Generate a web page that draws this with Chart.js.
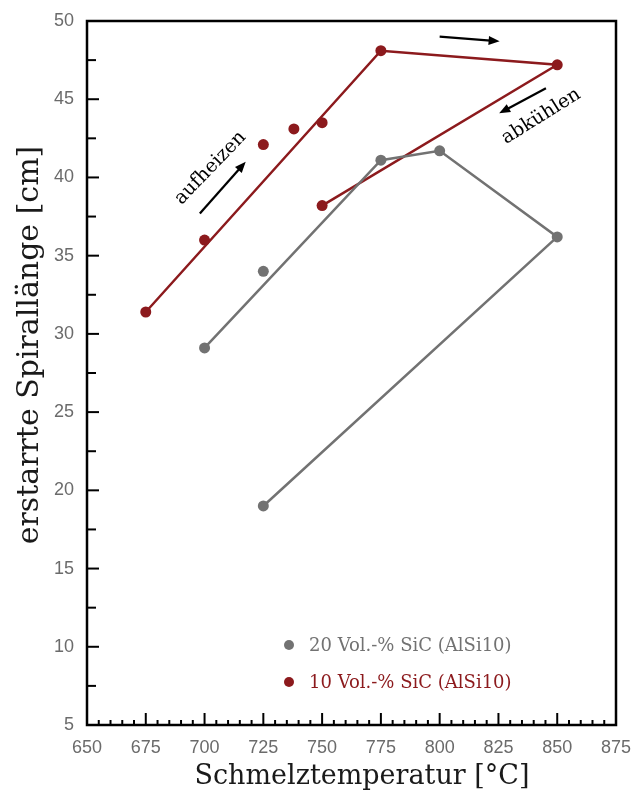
<!DOCTYPE html>
<html>
<head>
<meta charset="utf-8">
<script src="https://cdn.jsdelivr.net/npm/chart.js@4"></script>
<style>
  html, body { margin: 0; padding: 0; background: #fff; overflow: hidden; }
  #wrap { width: 635px; height: 791px; }
</style>
</head>
<body>
<div id="wrap"><canvas id="chart"></canvas></div>
<script>
// 10 Vol.-% SiC: Linienzug (aufheizen -> abkühlen) und Einzelpunkte
const red_line_x = [675, 775, 850, 750];
const red_line_y = [31.4, 48.1, 47.2, 38.2];
const red_pts_x = [700, 725, 738, 750];
const red_pts_y = [36.0, 42.1, 43.1, 43.5];

// 20 Vol.-% SiC
const gray_line_x = [700, 775, 800, 850, 725];
const gray_line_y = [29.1, 41.1, 41.7, 36.2, 19.0];
const gray_pts_x = [725];
const gray_pts_y = [34.0];

const x_ticks = [650, 675, 700, 725, 750, 775, 800, 825, 850, 875];
const y_ticks = [5, 10, 15, 20, 25, 30, 35, 40, 45, 50];

const labels = ["20 Vol.-% SiC (AlSi10)", "10 Vol.-% SiC (AlSi10)"];

const RED = "#8c1a1d";
const GRAY = "#727272";
const SERIF = "'DejaVu Serif', serif";
const SANS = "'Liberation Sans', Arial, sans-serif";

function pts(xs, ys) {
  return xs.map((x, i) => ({ x: x, y: ys[i] }));
}

function arrow(ctx, x1, y1, x2, y2) {
  const a = Math.atan2(y2 - y1, x2 - x1);
  ctx.beginPath();
  ctx.moveTo(x1, y1);
  ctx.lineTo(x2 - 6 * Math.cos(a), y2 - 6 * Math.sin(a));
  ctx.stroke();
  ctx.beginPath();
  ctx.moveTo(x2, y2);
  ctx.lineTo(x2 - 11 * Math.cos(a) + 4.5 * Math.sin(a), y2 - 11 * Math.sin(a) - 4.5 * Math.cos(a));
  ctx.lineTo(x2 - 11 * Math.cos(a) - 4.5 * Math.sin(a), y2 - 11 * Math.sin(a) + 4.5 * Math.cos(a));
  ctx.closePath();
  ctx.fill();
}

// Rahmen, Ticks nach innen, Achsentitel, Legende und Pfeile
const decor = {
  id: "decor",
  afterDraw(chart) {
    const ctx = chart.ctx;
    const xs = chart.scales.x, ys = chart.scales.y;
    const a = chart.chartArea;
    ctx.save();
    ctx.strokeStyle = "#000";
    ctx.lineWidth = 2.5;
    ctx.strokeRect(a.left, a.top, a.right - a.left, a.bottom - a.top);

    ctx.lineWidth = 2;
    for (let v = 650; v <= 875; v += 5) {
      const px = xs.getPixelForValue(v);
      const len = v % 25 === 0 ? 12 : 5;
      ctx.beginPath();
      ctx.moveTo(px, a.bottom);
      ctx.lineTo(px, a.bottom - len);
      ctx.stroke();
    }
    for (let v = 5; v <= 50; v += 2.5) {
      const py = ys.getPixelForValue(v);
      const len = v % 5 === 0 ? 12 : 9;
      ctx.beginPath();
      ctx.moveTo(a.left, py);
      ctx.lineTo(a.left + len, py);
      ctx.stroke();
    }

    // Achsentitel
    ctx.fillStyle = "#1a1a1a";
    ctx.font = "27px " + SERIF;
    ctx.textAlign = "center";
    ctx.textBaseline = "alphabetic";
    ctx.fillText("Schmelztemperatur [°C]", 362, 784);
    ctx.save();
    ctx.translate(38, 345);
    ctx.rotate(-Math.PI / 2);
    ctx.font = "30px " + SERIF;
    ctx.fillText("erstarrte Spirallänge [cm]", 0, 0);
    ctx.restore();

    // Legende
    ctx.font = "18px " + SERIF;
    ctx.textAlign = "left";
    ctx.textBaseline = "middle";
    const lx = 289;
    [[GRAY, 645], [RED, 682]].forEach((c, i) => {
      ctx.fillStyle = c[0];
      ctx.beginPath();
      ctx.arc(lx, c[1], 5, 0, Math.PI * 2);
      ctx.fill();
      ctx.fillText(labels[i], lx + 20, c[1] + 1);
    });

    // Pfeile und Beschriftung
    ctx.strokeStyle = "#000";
    ctx.fillStyle = "#000";
    ctx.lineWidth = 2.2;
    arrow(ctx, xs.getPixelForValue(698), ys.getPixelForValue(37.7), xs.getPixelForValue(717.5), ys.getPixelForValue(41.0));
    arrow(ctx, xs.getPixelForValue(800), ys.getPixelForValue(49.0), xs.getPixelForValue(825.5), ys.getPixelForValue(48.7));
    arrow(ctx, xs.getPixelForValue(845.2), ys.getPixelForValue(45.7), xs.getPixelForValue(825.3), ys.getPixelForValue(44.1));

    ctx.font = "19px " + SERIF;
    ctx.textAlign = "center";
    ctx.save();
    ctx.translate(xs.getPixelForValue(702.5), ys.getPixelForValue(40.6));
    ctx.rotate(-46 * Math.PI / 180);
    ctx.fillText("aufheizen", 0, 0);
    ctx.restore();
    ctx.save();
    ctx.translate(xs.getPixelForValue(843.2), ys.getPixelForValue(43.9));
    ctx.rotate(-32 * Math.PI / 180);
    ctx.fillText("abkühlen", 0, 0);
    ctx.restore();
    ctx.restore();
  }
};

const ctx = document.getElementById("chart").getContext("2d");

const pointStyle = { pointRadius: 5.5, pointBorderWidth: 0, pointHoverRadius: 5.5 };

new Chart(ctx, {
  type: "scatter",
  data: {
    datasets: [
      { data: pts(gray_line_x, gray_line_y), showLine: true, borderColor: GRAY, backgroundColor: GRAY, borderWidth: 2.5, ...pointStyle },
      { data: pts(gray_pts_x, gray_pts_y), borderColor: GRAY, backgroundColor: GRAY, ...pointStyle },
      { data: pts(red_line_x, red_line_y), showLine: true, borderColor: RED, backgroundColor: RED, borderWidth: 2.5, ...pointStyle },
      { data: pts(red_pts_x, red_pts_y), borderColor: RED, backgroundColor: RED, ...pointStyle }
    ]
  },
  options: {
    responsive: true,
    maintainAspectRatio: false,
    animation: false,
    layout: { padding: { left: 0, top: 21, right: 19, bottom: 0 } },
    plugins: {
      legend: { display: false },
      tooltip: { enabled: false }
    },
    scales: {
      x: {
        type: "linear",
        min: 650,
        max: 875,
        afterBuildTicks: (s) => { s.ticks = x_ticks.map(v => ({ value: v })); },
        afterFit: (s) => { s.height = 66; s.paddingLeft = 0; s.paddingRight = 0; },
        grid: { display: false, drawTicks: false },
        border: { display: false },
        ticks: { color: "#6b6b6b", font: { family: SANS, size: 18 }, padding: 12, maxRotation: 0 }
      },
      y: {
        type: "linear",
        min: 5,
        max: 50,
        afterBuildTicks: (s) => { s.ticks = y_ticks.map(v => ({ value: v })); },
        afterFit: (s) => { s.width = 87; s.paddingTop = 0; s.paddingBottom = 0; },
        grid: { display: false, drawTicks: false },
        border: { display: false },
        ticks: { color: "#6b6b6b", font: { family: SANS, size: 18 }, padding: 13 }
      }
    }
  },
  plugins: [decor]
});
</script>
</body>
</html>
